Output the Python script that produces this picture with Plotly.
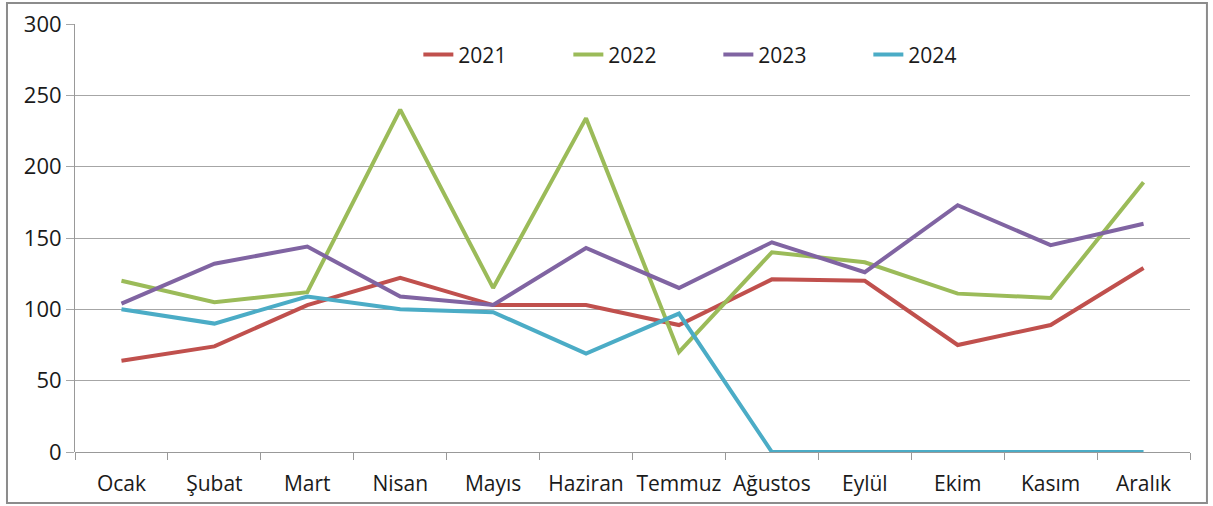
import plotly.graph_objects as go

months = ["Ocak", "Şubat", "Mart", "Nisan", "Mayıs", "Haziran", "Temmuz",
          "Ağustos", "Eylül", "Ekim", "Kasım", "Aralık"]
y2021 = [64, 74, 103, 122, 103, 103, 89, 121, 120, 75, 89, 129]
y2022 = [120, 105, 112, 240, 115, 234, 70, 140, 133, 111, 108, 189]
y2023 = [104, 132, 144, 109, 103, 143, 115, 147, 126, 173, 145, 160]
y2024 = [100, 90, 109, 100, 98, 69, 97, 0, 0, 0, 0, 0]
series_names = ["2021", "2022", "2023", "2024"]
colors = ["#C0504D", "#9BBB59", "#8064A2", "#4BACC6"]

fig = go.Figure()
for name, vals, col in zip(series_names, [y2021, y2022, y2023, y2024], colors):
    fig.add_trace(go.Scatter(x=months, y=vals, name=name, mode="lines",
                             line=dict(color=col, width=4)))

fig.update_layout(
    width=1213, height=506,
    margin=dict(l=75, r=23, t=24, b=54),
    paper_bgcolor="white", plot_bgcolor="white",
    font=dict(family="Open Sans", size=21, color="#1a1a1a"),
    showlegend=True,
    legend=dict(orientation="h", x=0.577, y=0.928, xanchor="center", yanchor="middle",
                bgcolor="rgba(0,0,0,0)", font=dict(size=21),
                entrywidth=105, entrywidthmode="pixels"),
    xaxis=dict(showgrid=False, showline=False, ticks="outside", tickson="boundaries",
               range=[-0.5, 11.5], tickangle=0, automargin=False,
               ticklen=7, tickcolor="#999", ticklabelstandoff=17,
               tickfont=dict(size=21)),
    yaxis=dict(range=[0, 300], dtick=50, showgrid=True, gridcolor="#A6A6A6", gridwidth=1,
               showline=True, linecolor="#999", linewidth=1, zeroline=True,
               zerolinecolor="#999", zerolinewidth=1, automargin=False,
               ticks="outside", ticklen=8, tickcolor="#A6A6A6", tickfont=dict(size=22)),
)
fig.add_shape(type="rect", xref="paper", yref="paper",
              x0=-0.061, x1=1.0152, y0=-0.119, y1=1.049,
              line=dict(color="#8C8C8C", width=2))

fig.write_html("out.html", config={"displayModeBar": False},
               post_script="document.body.style.margin='0';")
